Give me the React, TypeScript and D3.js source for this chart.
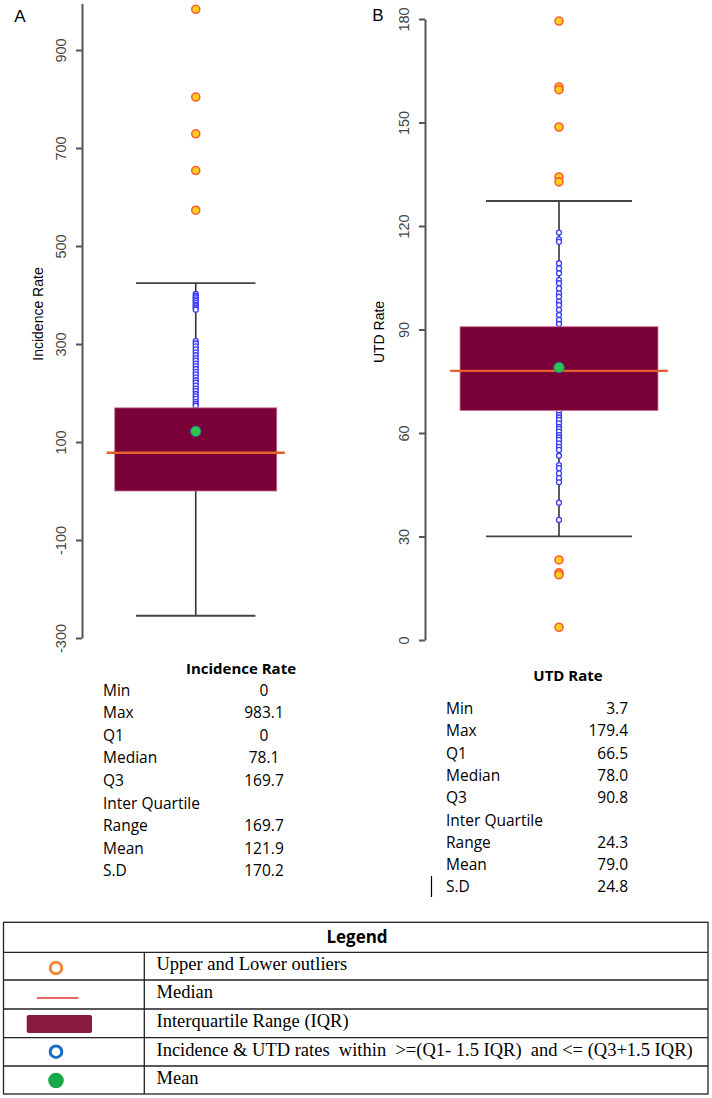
import React, { useEffect, useRef } from "react";
import * as d3 from "d3";

// ---------- data ----------
const panelLabels = ["A", "B"];
const axisTitles = ["Incidence Rate", "UTD Rate"];
const ticksA = [-300, -100, 100, 300, 500, 700, 900];
const ticksB = [0, 30, 60, 90, 120, 150, 180];

// [Q1, median, Q3, mean]
const incidenceBox = [0, 78.1, 169.7, 121.9];
const utdBox = [66.5, 78.0, 90.8, 79.0];

const incidenceOutliers = [983.1, 804, 729, 654, 573];
const incidenceInliers = [
  402, 398, 395, 391, 388, 384, 380, 377, 373, 370,
  306, 301, 295, 289, 283, 277, 271, 266, 260, 255, 249, 243, 238, 232, 226,
  221, 215, 209, 204, 198, 193, 188, 182, 178, 174,
];
const utdOutliers = [179.4, 160.3, 159.5, 148.7, 134.2, 132.8, 23.2, 19.5, 18.9, 3.7];
const utdInliers = [
  118.1, 116.1, 115.4, 109.2, 107.7, 106.3, 104.3, 103.4, 101.9, 100.5, 99.5,
  98.1, 97.1, 95.7, 94.2, 92.8, 91.6,
  66.3, 65.2, 64.5, 63.8, 62.8, 61.8, 61.2, 60.4, 59.4, 58.7, 58.0, 57.0, 56.0,
  55.1, 53.4, 50.7, 49.8, 48.3, 46.9, 45.7, 39.8, 34.8,
];

const tableTitles = ["Incidence Rate", "UTD Rate"];
const tableLabels = ["Min", "Max", "Q1", "Median", "Q3", "Inter Quartile", "Range", "Mean", "S.D"];
const incidenceTableValues = ["0", "983.1", "0", "78.1", "169.7", "", "169.7", "121.9", "170.2"];
const utdTableValues = ["3.7", "179.4", "66.5", "78.0", "90.8", "", "24.3", "79.0", "24.8"];

const legendTitle = "Legend";
const legendItems = [
  "Upper and Lower outliers",
  "Median",
  "Interquartile Range (IQR)",
  "Incidence & UTD rates  within  >=(Q1- 1.5 IQR)  and <= (Q3+1.5 IQR)",
  "Mean",
];

// ---------- colours ----------
const BOX_FILL = "#7a0038";
const MEDIAN_COL = "#e4602a";
const OUT_FILL = "#ffd21c";
const OUT_STROKE = "#ff5c33";
const IN_STROKE = "#3a3aff";
const MEAN_FILL = "#2ec44a";

// ---------- scales ----------
const yA = d3.scaleLinear().domain([-300, 900]).range([638, 50]);
const yB = d3.scaleLinear().domain([0, 180]).range([640, 19]);
const xA = d3.scaleLinear().domain([0.5, 1.5]).range([94.5, 297]);
const xB = d3.scaleLinear().domain([0.5, 1.5]).range([435.3, 682.7]);

function BoxPanel({ x, y, box, inliers, outliers }) {
  const [q1, med, q3, mean] = box;
  const iqr = q3 - q1;
  const hi = q3 + 1.5 * iqr;
  const lo = q1 - 1.5 * iqr;
  const cx = x(1);
  return (
    <g>
      <line x1={cx} x2={cx} y1={y(hi)} y2={y(lo)} stroke="#333" strokeWidth={1.6} />
      <line x1={x(1 - 0.295)} x2={x(1 + 0.295)} y1={y(hi)} y2={y(hi)} stroke="#444" strokeWidth={1.8} />
      <line x1={x(1 - 0.295)} x2={x(1 + 0.295)} y1={y(lo)} y2={y(lo)} stroke="#444" strokeWidth={1.8} />
      {inliers.map((v, i) => (
        <circle key={"in" + i} cx={cx} cy={y(v)} r={2.5} fill="#fff" stroke={IN_STROKE} strokeWidth={1.3} />
      ))}
      {outliers.map((v, i) => (
        <circle key={"out" + i} cx={cx} cy={y(v)} r={4} fill={OUT_FILL} stroke={OUT_STROKE} strokeWidth={1.6} />
      ))}
      <rect
        x={x(1 - 0.4)}
        width={x(1 + 0.4) - x(1 - 0.4)}
        y={y(q3)}
        height={y(q1) - y(q3)}
        fill={BOX_FILL}
        stroke="#c9708f"
        strokeWidth={0.8}
      />
      <line x1={x(1 - 0.44)} x2={x(1 + 0.44)} y1={y(med)} y2={y(med)} stroke={MEDIAN_COL} strokeWidth={2.4} />
      <circle cx={cx} cy={y(mean)} r={5.2} fill={MEAN_FILL} stroke="#2a6fb0" strokeWidth={1} />
    </g>
  );
}

export default function App() {
  const axARef = useRef(null);
  const axBRef = useRef(null);

  useEffect(() => {
    const style = (g) => {
      g.select(".domain").attr("stroke", "#555").attr("stroke-width", 2);
      g.selectAll(".tick line").attr("stroke", "#555").attr("stroke-width", 2);
      g.selectAll(".tick text")
        .attr("transform", "rotate(-90)")
        .attr("x", 0)
        .attr("y", -16)
        .attr("dy", 0)
        .attr("text-anchor", "middle")
        .attr("fill", "#444")
        .attr("font-family", "'Liberation Sans', Arial, sans-serif")
        .attr("font-size", 14.5);
    };
    const yAaxis = yA.copy().domain([-300, 995]).range([yA(-300), yA(995)]);
    d3.select(axARef.current)
      .call(d3.axisLeft(yAaxis).tickValues(ticksA).tickSize(6).tickSizeOuter(0).tickFormat((d) => String(d)))
      .call(style);
    d3.select(axBRef.current)
      .call(d3.axisLeft(yB).tickValues(ticksB).tickSize(6).tickSizeOuter(0).tickFormat((d) => String(d)))
      .call(style);
  }, []);

  const sans = "'Liberation Sans', Arial, sans-serif";
  const tableFont = "'Open Sans', sans-serif";
  const serif = "'Liberation Serif', 'Times New Roman', serif";

  const rowsA = tableLabels.map((l, i) => ({ l, v: incidenceTableValues[i], y: 695.5 + i * 22.6 }));
  const rowsB = tableLabels.map((l, i) => ({ l, v: utdTableValues[i], y: 714 + i * 22.3 }));

  const legRows = [952.3, 980, 1009, 1037.7, 1066, 1094];

  return (
    <svg width={712} height={1098} style={{ position: "absolute", left: 0, top: 0, background: "#fff" }}>
      <rect x={0} y={0} width={712} height={1098} fill="#fff" />
      {/* panel labels */}
      <text x={20} y={22} fontFamily={sans} fontSize={17} textAnchor="middle">{panelLabels[0]}</text>
      <text x={378} y={21} fontFamily={sans} fontSize={17} textAnchor="middle">{panelLabels[1]}</text>

      {/* axis titles */}
      <text transform="translate(43,314) rotate(-90)" fontFamily={sans} fontSize={14} textAnchor="middle">{axisTitles[0]}</text>
      <text transform="translate(384,332) rotate(-90)" fontFamily={sans} fontSize={14} textAnchor="middle">{axisTitles[1]}</text>

      <g ref={axARef} transform="translate(82,0)" />
      <g ref={axBRef} transform="translate(425,0)" />

      <BoxPanel x={xA} y={yA} box={incidenceBox} inliers={incidenceInliers} outliers={incidenceOutliers} />
      <BoxPanel x={xB} y={yB} box={utdBox} inliers={utdInliers} outliers={utdOutliers} />

      {/* table A */}
      <text x={241} y={674} fontFamily={tableFont} fontWeight="bold" fontSize={15} textAnchor="middle">{tableTitles[0]}</text>
      {rowsA.map((r, i) => (
        <g key={"ta" + i}>
          <text x={103} y={r.y} fontFamily={tableFont} fontSize={15.5}>{r.l}</text>
          <text x={264} y={r.y} fontFamily={tableFont} fontSize={15.5} textAnchor="middle">{r.v}</text>
        </g>
      ))}

      {/* table B */}
      <text x={568} y={681} fontFamily={tableFont} fontWeight="bold" fontSize={15} textAnchor="middle">{tableTitles[1]}</text>
      {rowsB.map((r, i) => (
        <g key={"tb" + i}>
          <text x={446} y={r.y} fontFamily={tableFont} fontSize={15.5}>{r.l}</text>
          <text x={628} y={r.y} fontFamily={tableFont} fontSize={15.5} textAnchor="end">{r.v}</text>
        </g>
      ))}
      <line x1={431.5} x2={431.5} y1={876} y2={897} stroke="#000" strokeWidth={1.2} />

      {/* legend */}
      <rect x={3.5} y={922.3} width={704.5} height={1094 - 922.3} fill="none" stroke="#222" strokeWidth={1.3} />
      {legRows.slice(0, 5).map((y, i) => (
        <line key={"lr" + i} x1={3.5} x2={708} y1={y} y2={y} stroke="#222" strokeWidth={1.3} />
      ))}
      <line x1={144.3} x2={144.3} y1={952.3} y2={1094} stroke="#222" strokeWidth={1.3} />
      <text x={357} y={943} fontFamily={tableFont} fontWeight="bold" fontSize={17} textAnchor="middle">{legendTitle}</text>

      <circle cx={56} cy={968} r={5.8} fill="#fff" stroke="#f08c3c" strokeWidth={3} />
      <line x1={36.7} x2={78.3} y1={998} y2={998} stroke="#e0342c" strokeWidth={1.5} />
      <rect x={26.7} y={1015} width={65.3} height={18} rx={2} fill="#891a40" />
      <circle cx={56} cy={1051.7} r={5.8} fill="#fff" stroke="#1a6fc4" strokeWidth={3} />
      <circle cx={56} cy={1080.5} r={7.8} fill="#17a84a" />

      {legendItems.map((t, i) => (
        <text key={"li" + i} x={156.5} y={legRows[i] + 18} fontFamily={serif} fontSize={18.5} style={{ whiteSpace: "pre" }}>
          {t}
        </text>
      ))}
    </svg>
  );
}
